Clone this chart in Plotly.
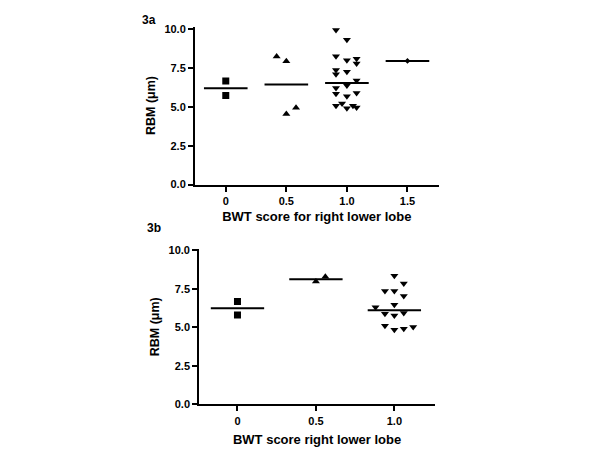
import numpy as np
import plotly.graph_objects as go

# ---------------- data ----------------
# Panel 3a : BWT score for right lower lobe
a_groups = [0, 0.5, 1.0, 1.5]
a_tick_text = ["0", "0.5", "1.0", "1.5"]
a_g0_x = [0.0, 0.0]
a_g0_y = [6.67, 5.74]
a_g05_x = [0.42, 0.50, 0.50, 0.58]
a_g05_y = [8.26, 7.95, 4.55, 4.95]
a_g10_x = [0.91, 1.00, 0.91, 1.00, 1.08, 1.08, 0.91, 0.91, 1.00, 1.08,
           1.00, 0.91, 0.91, 1.00, 1.08, 0.91, 0.96, 1.00, 1.05, 1.08]
a_g10_y = [9.97, 9.33, 8.28, 8.01, 8.11, 7.80, 7.38, 7.11, 7.28, 6.71,
           6.38, 6.23, 5.85, 5.70, 5.91, 5.08, 5.22, 4.92, 5.08, 4.97]
a_g15_x = [1.5]
a_g15_y = [7.97]

# Panel 3b : BWT score right lower lobe
b_groups = [0, 0.5, 1.0]
b_tick_text = ["0", "0.5", "1.0"]
b_g0_x = [0.0, 0.0]
b_g0_y = [6.68, 5.81]
b_g05_x = [0.50, 0.56]
b_g05_y = [7.97, 8.29]
b_g10_x = [1.00, 1.06, 0.94, 1.00, 1.06, 0.88, 1.00, 0.94, 1.00, 1.06,
           0.94, 1.00, 1.06, 1.12]
b_g10_y = [8.35, 7.84, 7.36, 7.36, 7.04, 6.30, 6.47, 5.88, 5.77, 5.94,
           5.10, 4.84, 4.92, 5.03]

y_ticks = [0, 2.5, 5.0, 7.5, 10.0]

# ---------------- figure ----------------
FONT = "Liberation Sans, Arial, sans-serif"
fig = go.Figure()


def add_group(xs, ys, center, symbol, size, half, xa, ya):
    fig.add_trace(go.Scatter(
        x=xs, y=ys, mode="markers", xaxis=xa, yaxis=ya,
        marker=dict(symbol=symbol, size=size, color="black"),
        showlegend=False, hoverinfo="y"))
    med = float(np.median(ys))
    fig.add_trace(go.Scatter(
        x=[center - half, center + half], y=[med, med], mode="lines",
        xaxis=xa, yaxis=ya, line=dict(color="black", width=2),
        showlegend=False, hoverinfo="skip"))


a_sets = [(a_g0_x, a_g0_y, "square", 7),
          (a_g05_x, a_g05_y, "triangle-up", 7),
          (a_g10_x, a_g10_y, "triangle-down", 7),
          (a_g15_x, a_g15_y, "diamond", 4.5)]
for g, (xs, ys, sym, sz) in zip(a_groups, a_sets):
    add_group(xs, ys, g, sym, sz, 0.18, "x", "y")

b_sets = [(b_g0_x, b_g0_y, "square", 7),
          (b_g05_x, b_g05_y, "triangle-up", 7),
          (b_g10_x, b_g10_y, "triangle-down", 7)]
for g, (xs, ys, sym, sz) in zip(b_groups, b_sets):
    add_group(xs, ys, g, sym, sz, 0.17, "x2", "y2")

axis_common = dict(showgrid=False, zeroline=False, showline=True,
                   linecolor="black", linewidth=2, ticks="outside",
                   ticklen=5, tickwidth=2, tickcolor="black",
                   tickfont=dict(family=FONT, size=11, color="black",
                                 weight="bold"),
                   fixedrange=True)

fig.update_layout(
    width=600, height=450,
    margin=dict(l=0, r=0, t=0, b=0),
    paper_bgcolor="white", plot_bgcolor="white",
    font=dict(family=FONT, color="black"),
    xaxis=dict(axis_common, domain=[0.325, 0.731], range=[-0.254, 1.757],
               anchor="y", tickvals=a_groups, ticktext=a_tick_text,
               title=dict(text="BWT score for right lower lobe",
                          font=dict(family=FONT, size=13, weight="bold"),
                          standoff=6)),
    yaxis=dict(axis_common, domain=[0.591, 0.951], range=[0, 10.19],
               anchor="x", tickvals=y_ticks, tickformat=".1f",
               title=dict(text="RBM (μm)",
                          font=dict(family=FONT, size=12.5, weight="bold"),
                          standoff=6)),
    xaxis2=dict(axis_common, domain=[0.332, 0.725], range=[-0.244, 1.259],
                anchor="y2", tickvals=b_groups, ticktext=b_tick_text,
                title=dict(text="BWT score right lower lobe",
                           font=dict(family=FONT, size=13, weight="bold"),
                           standoff=9)),
    yaxis2=dict(axis_common, domain=[0.090, 0.444], range=[0, 10.08],
                anchor="x2", tickvals=y_ticks, tickformat=".1f",
                title=dict(text="RBM (μm)",
                           font=dict(family=FONT, size=12.5, weight="bold"),
                           standoff=6)),
    annotations=[
        dict(text="3a", x=149 / 600, y=1 - 15 / 450, xref="paper",
             yref="paper", showarrow=False, xanchor="center",
             yanchor="middle",
             font=dict(family=FONT, size=12, weight="bold")),
        dict(text="3b", x=154 / 600, y=1 - 229 / 450, xref="paper",
             yref="paper", showarrow=False, xanchor="center",
             yanchor="middle",
             font=dict(family=FONT, size=12, weight="bold")),
    ],
)

fig.write_html(
    "out.html",
    config={"displayModeBar": False},
    post_script="document.body.style.margin='0';"
                "document.body.style.padding='0';",
)
